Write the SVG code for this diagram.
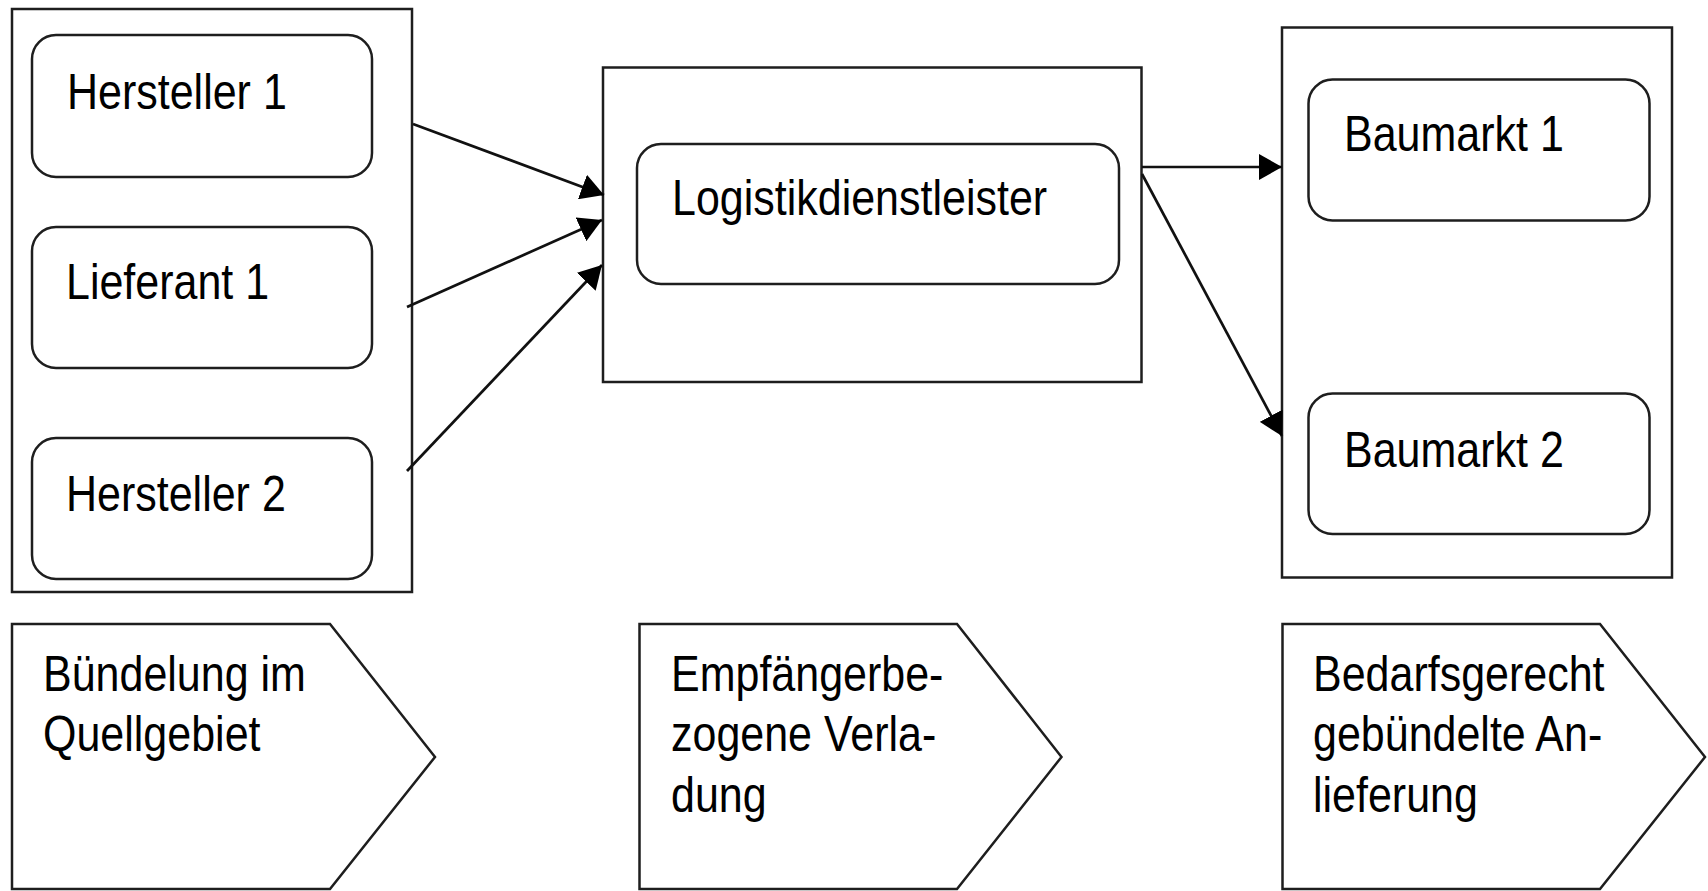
<svg xmlns="http://www.w3.org/2000/svg" width="1708" height="891" viewBox="0 0 1708 891">
<style>
.box{fill:#fff;stroke:#1e1e1e;stroke-width:2.5}
.rbox{fill:#fff;stroke:#1e1e1e;stroke-width:2.5}
.t{font-family:"Liberation Sans",Arial,sans-serif;font-size:43px;fill:#000}
.conn{stroke:#111;stroke-width:2.7;fill:none;marker-end:url(#ah)}
</style>
<defs>
<marker id="ah" markerUnits="userSpaceOnUse" markerWidth="24" markerHeight="26" refX="23" refY="13" orient="auto" viewBox="0 0 24 26">
<path d="M0,0 L23,13 L0,26 z" fill="#000"/>
</marker>
</defs>
<rect width="1708" height="891" fill="#fff"/>

<g id="quellgebiet">
<rect class="box" x="12" y="9" width="400" height="583"/>
</g>
<g id="hersteller1">
<rect class="rbox" x="32" y="35" width="340" height="142" rx="24" ry="24"/>
<text class="t" transform="translate(67,109) scale(1,1.18)">Hersteller 1</text>
</g>
<g id="lieferant1">
<rect class="rbox" x="32" y="227" width="340" height="141" rx="24" ry="24"/>
<text class="t" transform="translate(66,298.5) scale(1,1.18)">Lieferant 1</text>
</g>
<g id="hersteller2">
<rect class="rbox" x="32" y="438" width="340" height="141" rx="24" ry="24"/>
<text class="t" transform="translate(66,511) scale(1,1.18)">Hersteller 2</text>
</g>

<g id="verladung">
<rect class="box" x="603" y="67.5" width="538.5" height="314.5"/>
</g>
<g id="logistikdienstleister">
<rect class="rbox" x="637" y="144" width="482" height="140" rx="24" ry="24"/>
<text class="t" transform="translate(672,215) scale(1,1.18)">Logistikdienstleister</text>
</g>

<g id="anlieferung">
<rect class="box" x="1282" y="27.5" width="390" height="550"/>
</g>
<g id="baumarkt1">
<rect class="rbox" x="1308.5" y="79.5" width="341" height="141" rx="24" ry="24"/>
<text class="t" transform="translate(1344,151) scale(1,1.18)">Baumarkt 1</text>
</g>
<g id="baumarkt2">
<rect class="rbox" x="1308.5" y="393.5" width="341" height="140.5" rx="24" ry="24"/>
<text class="t" transform="translate(1344,467) scale(1,1.18)">Baumarkt 2</text>
</g>

<g id="connectors">
<line class="conn" x1="413" y1="124" x2="604" y2="195"/>
<line class="conn" x1="407" y1="307" x2="602" y2="220"/>
<line class="conn" x1="407" y1="471" x2="602" y2="265"/>
<line class="conn" x1="1142" y1="167" x2="1282" y2="167"/>
<line class="conn" x1="1142" y1="174" x2="1282" y2="436"/>
</g>

<g id="phase1">
<path class="box" d="M12,624 L330,624 L435,757 L330,889 L12,889 Z"/>
<text class="t" transform="translate(43,690.5) scale(1,1.18)">Bündelung im</text>
<text class="t" transform="translate(43,750.5) scale(1,1.18)">Quellgebiet</text>
</g>
<g id="phase2">
<path class="box" d="M639.5,624 L957,624 L1061.5,757 L957,889 L639.5,889 Z"/>
<text class="t" transform="translate(671,690.5) scale(1,1.18)">Empfängerbe-</text>
<text class="t" transform="translate(671,751) scale(1,1.18)">zogene Verla-</text>
<text class="t" transform="translate(671,812) scale(1,1.18)">dung</text>
</g>
<g id="phase3">
<path class="box" d="M1282.5,624 L1600,624 L1705,757 L1600,889 L1282.5,889 Z"/>
<text class="t" transform="translate(1313,690.5) scale(1,1.18)">Bedarfsgerecht</text>
<text class="t" transform="translate(1313,751) scale(1,1.18)">gebündelte An-</text>
<text class="t" transform="translate(1313,812) scale(1,1.18)">lieferung</text>
</g>
</svg>
